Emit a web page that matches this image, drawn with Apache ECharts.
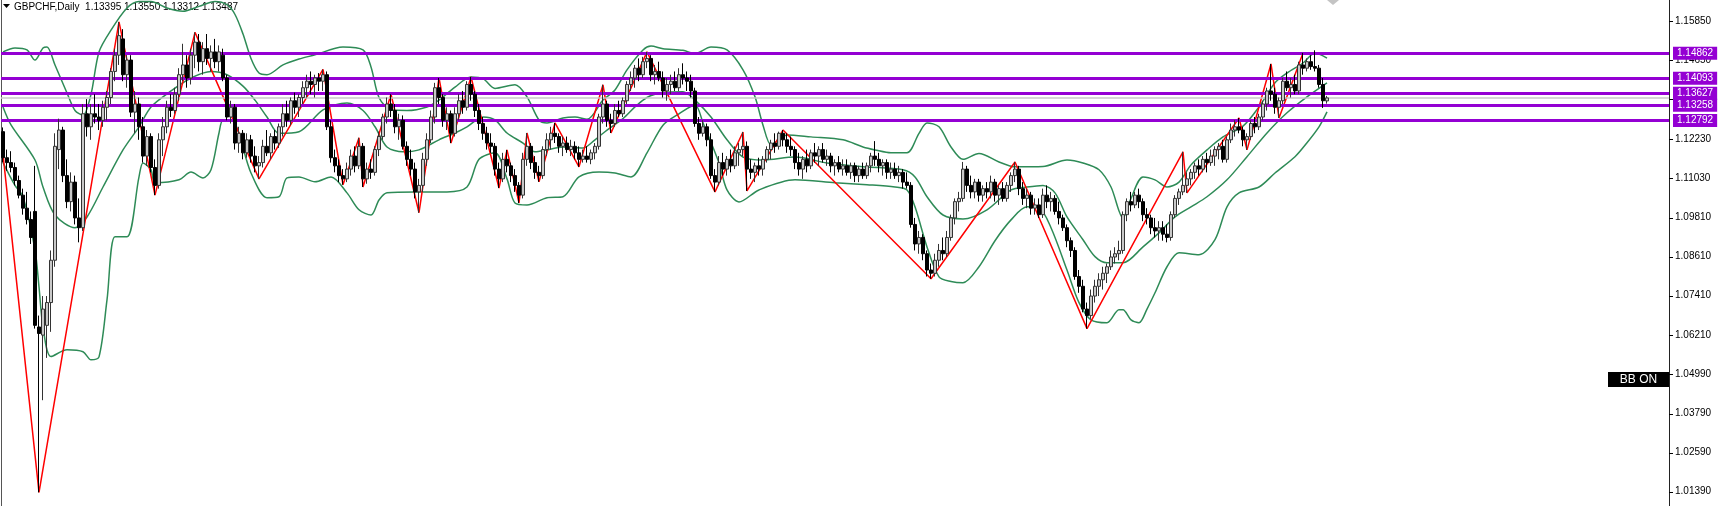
<!DOCTYPE html>
<html><head><meta charset="utf-8">
<script src="https://cdn.jsdelivr.net/npm/echarts/dist/echarts.min.js"></script>
<style>html,body{margin:0;padding:0;background:#fff}#c{width:1718px;height:506px}</style>
</head><body><div id="c"></div>
<script>
const symbolName = 'GBPCHF,Daily';
const headerQuote = [1.13395, 1.13550, 1.13312, 1.13487];
const priceTicks = [1.15850,1.14650,1.13450,1.12230,1.11030,1.09810,1.08610,1.07410,1.06210,1.04990,1.03790,1.02590,1.01390];
const levelLines = [1.14862,1.14093,1.13627,1.13258,1.12792];
const bidPrice = 1.13487;
const totalSlots = 417;
// [open, high, low, close]
const bars = [
[1.1245,1.1258,1.1150,1.1165],[1.1165,1.1190,1.1125,1.1150],[1.1150,1.1185,1.1120,1.1135],[1.1135,1.1150,1.1080,1.1095],[1.1095,1.1110,1.1040,1.1050],
[1.1050,1.1070,1.0990,1.1010],[1.1010,1.1060,1.0960,1.0975],[1.0975,1.1000,1.0900,1.0920],[1.1000,1.1140,1.0640,1.0650],[1.0645,1.0680,1.0137,1.0625],
[1.0620,1.0740,1.0420,1.0700],[1.0650,1.0740,1.0550,1.0720],[1.0720,1.0880,1.0630,1.0850],[1.0850,1.1240,1.0830,1.1200],[1.1190,1.1285,1.1130,1.1250],
[1.1250,1.1260,1.1090,1.1110],[1.1110,1.1160,1.1010,1.1030],[1.1030,1.1120,1.1000,1.1090],[1.1090,1.1110,1.0960,1.0980],[1.0980,1.1040,1.0905,1.0950],
[1.0950,1.1330,1.0940,1.1300],[1.1300,1.1345,1.1230,1.1260],[1.1260,1.1330,1.1220,1.1300],[1.1300,1.1360,1.1270,1.1290],[1.1290,1.1330,1.1250,1.1280],
[1.1280,1.1340,1.1260,1.1320],[1.1320,1.1370,1.1280,1.1350],[1.1350,1.1440,1.1330,1.1430],[1.1430,1.1500,1.1400,1.1480],[1.1480,1.1582,1.1450,1.1540],
[1.1530,1.1560,1.1400,1.1420],[1.1420,1.1480,1.1380,1.1465],[1.1465,1.1480,1.1290,1.1305],[1.1305,1.1370,1.1240,1.1330],[1.1330,1.1350,1.1220,1.1260],
[1.1260,1.1290,1.1150,1.1170],[1.1170,1.1250,1.1140,1.1230],[1.1230,1.1240,1.1120,1.1135],[1.1135,1.1160,1.1050,1.1080],[1.1080,1.1240,1.1070,1.1220],
[1.1220,1.1290,1.1170,1.1260],[1.1260,1.1340,1.1240,1.1320],[1.1320,1.1360,1.1290,1.1310],[1.1310,1.1380,1.1300,1.1360],[1.1360,1.1440,1.1340,1.1420],
[1.1420,1.1515,1.1400,1.1450],[1.1450,1.1480,1.1380,1.1410],[1.1410,1.1500,1.1390,1.1480],[1.1480,1.1550,1.1440,1.1520],[1.1520,1.1545,1.1430,1.1460],
[1.1460,1.1520,1.1420,1.1500],[1.1500,1.1545,1.1450,1.1470],[1.1470,1.1510,1.1430,1.1490],[1.1490,1.1530,1.1440,1.1460],[1.1460,1.1510,1.1430,1.1490],
[1.1480,1.1500,1.1400,1.1410],[1.1410,1.1420,1.1280,1.1290],[1.1290,1.1340,1.1270,1.1320],[1.1320,1.1330,1.1190,1.1210],[1.1210,1.1260,1.1180,1.1240],
[1.1240,1.1250,1.1160,1.1180],[1.1180,1.1240,1.1165,1.1220],[1.1220,1.1235,1.1150,1.1170],[1.1170,1.1200,1.1120,1.1140],[1.1140,1.1170,1.1100,1.1150],
[1.1150,1.1220,1.1135,1.1200],[1.1200,1.1250,1.1170,1.1180],[1.1180,1.1240,1.1160,1.1230],[1.1230,1.1250,1.1190,1.1210],[1.1210,1.1270,1.1195,1.1260],
[1.1260,1.1330,1.1230,1.1300],[1.1300,1.1340,1.1260,1.1280],[1.1280,1.1350,1.1265,1.1340],[1.1340,1.1365,1.1300,1.1320],[1.1320,1.1360,1.1290,1.1350],
[1.1350,1.1400,1.1330,1.1380],[1.1380,1.1420,1.1350,1.1400],[1.1400,1.1430,1.1360,1.1390],[1.1390,1.1420,1.1350,1.1410],[1.1410,1.1425,1.1370,1.1400],
[1.1400,1.1436,1.1370,1.1420],[1.1420,1.1430,1.1250,1.1260],[1.1260,1.1280,1.1150,1.1165],[1.1165,1.1190,1.1120,1.1140],[1.1140,1.1160,1.1090,1.1110],
[1.1110,1.1130,1.1082,1.1100],[1.1100,1.1150,1.1090,1.1130],[1.1130,1.1190,1.1110,1.1170],[1.1170,1.1200,1.1120,1.1140],[1.1140,1.1226,1.1130,1.1200],
[1.1200,1.1210,1.1075,1.1100],[1.1100,1.1150,1.1085,1.1130],[1.1130,1.1160,1.1100,1.1120],[1.1120,1.1200,1.1110,1.1190],[1.1190,1.1245,1.1170,1.1230],
[1.1230,1.1300,1.1220,1.1290],[1.1290,1.1350,1.1270,1.1330],[1.1330,1.1360,1.1290,1.1310],[1.1310,1.1330,1.1240,1.1260],[1.1260,1.1300,1.1220,1.1280],
[1.1280,1.1295,1.1190,1.1200],[1.1200,1.1215,1.1140,1.1160],[1.1160,1.1190,1.1110,1.1130],[1.1130,1.1150,1.1040,1.1060],[1.1060,1.1100,1.0996,1.1080],
[1.1080,1.1180,1.1060,1.1160],[1.1160,1.1240,1.1140,1.1220],[1.1220,1.1310,1.1210,1.1290],[1.1290,1.1395,1.1270,1.1380],[1.1380,1.1410,1.1330,1.1350],
[1.1350,1.1360,1.1260,1.1280],[1.1280,1.1320,1.1250,1.1300],[1.1300,1.1310,1.1210,1.1240],[1.1240,1.1320,1.1230,1.1300],[1.1300,1.1360,1.1280,1.1340],
[1.1340,1.1370,1.1300,1.1320],[1.1320,1.1400,1.1310,1.1390],[1.1390,1.1413,1.1340,1.1360],[1.1360,1.1370,1.1290,1.1310],[1.1310,1.1330,1.1250,1.1270],
[1.1270,1.1290,1.1220,1.1240],[1.1240,1.1260,1.1190,1.1210],[1.1210,1.1240,1.1180,1.1200],[1.1200,1.1210,1.1110,1.1130],[1.1130,1.1150,1.1072,1.1100],
[1.1100,1.1180,1.1090,1.1160],[1.1160,1.1189,1.1120,1.1140],[1.1140,1.1150,1.1090,1.1110],[1.1110,1.1130,1.1060,1.1080],[1.1080,1.1090,1.1026,1.1050],
[1.1050,1.1180,1.1040,1.1160],[1.1160,1.1241,1.1140,1.1200],[1.1200,1.1210,1.1130,1.1150],[1.1150,1.1170,1.1100,1.1120],[1.1120,1.1140,1.1091,1.1110],
[1.1110,1.1200,1.1100,1.1190],[1.1190,1.1240,1.1170,1.1220],[1.1220,1.1260,1.1190,1.1240],[1.1240,1.1272,1.1210,1.1230],[1.1230,1.1240,1.1180,1.1200],
[1.1200,1.1230,1.1170,1.1210],[1.1210,1.1230,1.1180,1.1190],[1.1190,1.1220,1.1170,1.1200],[1.1200,1.1215,1.1160,1.1180],[1.1180,1.1200,1.1137,1.1160],
[1.1160,1.1190,1.1150,1.1170],[1.1170,1.1200,1.1150,1.1160],[1.1160,1.1190,1.1145,1.1180],[1.1180,1.1210,1.1160,1.1200],[1.1200,1.1300,1.1190,1.1290],
[1.1290,1.1389,1.1270,1.1330],[1.1330,1.1340,1.1260,1.1280],[1.1280,1.1300,1.1241,1.1270],[1.1270,1.1330,1.1260,1.1310],[1.1310,1.1340,1.1290,1.1300],
[1.1300,1.1350,1.1290,1.1340],[1.1340,1.1400,1.1330,1.1390],[1.1390,1.1430,1.1370,1.1410],[1.1410,1.1450,1.1380,1.1440],[1.1440,1.1470,1.1400,1.1420],
[1.1420,1.1475,1.1410,1.1460],[1.1460,1.1490,1.1440,1.1470],[1.1470,1.1480,1.1400,1.1420],[1.1420,1.1450,1.1390,1.1430],[1.1430,1.1460,1.1400,1.1410],
[1.1410,1.1430,1.1350,1.1370],[1.1370,1.1410,1.1340,1.1390],[1.1390,1.1420,1.1360,1.1400],[1.1400,1.1430,1.1370,1.1380],[1.1380,1.1440,1.1370,1.1420],
[1.1420,1.1455,1.1390,1.1410],[1.1410,1.1430,1.1370,1.1400],[1.1400,1.1420,1.1350,1.1370],[1.1370,1.1380,1.1260,1.1270],[1.1270,1.1290,1.1220,1.1240],
[1.1240,1.1280,1.1230,1.1260],[1.1260,1.1270,1.1200,1.1220],[1.1220,1.1240,1.1100,1.1110],[1.1110,1.1130,1.1060,1.1090],[1.1090,1.1170,1.1080,1.1150],
[1.1150,1.1180,1.1110,1.1130],[1.1130,1.1170,1.1110,1.1160],[1.1160,1.1190,1.1120,1.1140],[1.1140,1.1200,1.1130,1.1180],[1.1180,1.1210,1.1140,1.1190],
[1.1190,1.1244,1.1170,1.1200],[1.1200,1.1215,1.1063,1.1130],[1.1130,1.1160,1.1100,1.1120],[1.1120,1.1150,1.1090,1.1140],[1.1140,1.1165,1.1110,1.1130],
[1.1130,1.1170,1.1110,1.1160],[1.1160,1.1200,1.1150,1.1190],[1.1190,1.1220,1.1160,1.1210],[1.1210,1.1240,1.1180,1.1200],[1.1200,1.1245,1.1190,1.1240],
[1.1240,1.1250,1.1200,1.1220],[1.1220,1.1240,1.1180,1.1200],[1.1200,1.1230,1.1170,1.1190],[1.1190,1.1200,1.1130,1.1150],[1.1150,1.1180,1.1110,1.1130],
[1.1130,1.1170,1.1100,1.1160],[1.1160,1.1190,1.1120,1.1140],[1.1140,1.1190,1.1130,1.1180],[1.1180,1.1210,1.1150,1.1170],[1.1170,1.1200,1.1140,1.1190],
[1.1190,1.1210,1.1150,1.1160],[1.1160,1.1190,1.1140,1.1170],[1.1170,1.1180,1.1120,1.1140],[1.1140,1.1160,1.1110,1.1150],[1.1150,1.1170,1.1120,1.1130],
[1.1130,1.1160,1.1110,1.1140],[1.1140,1.1160,1.1110,1.1120],[1.1120,1.1150,1.1100,1.1140],[1.1140,1.1150,1.1090,1.1110],[1.1110,1.1140,1.1090,1.1130],
[1.1130,1.1150,1.1100,1.1110],[1.1110,1.1150,1.1100,1.1140],[1.1140,1.1180,1.1120,1.1170],[1.1170,1.1216,1.1140,1.1160],[1.1160,1.1180,1.1120,1.1140],
[1.1140,1.1160,1.1110,1.1150],[1.1150,1.1160,1.1100,1.1120],[1.1120,1.1150,1.1100,1.1130],[1.1130,1.1150,1.1100,1.1110],[1.1110,1.1140,1.1090,1.1120],
[1.1120,1.1130,1.1070,1.1090],[1.1090,1.1120,1.1070,1.1080],[1.1080,1.1090,1.0950,1.0960],[1.0960,1.0980,1.0880,1.0900],[1.0900,1.0940,1.0870,1.0920],
[1.0920,1.0930,1.0850,1.0870],[1.0870,1.0880,1.0800,1.0820],[1.0820,1.0840,1.0793,1.0810],[1.0810,1.0870,1.0800,1.0850],[1.0850,1.0900,1.0830,1.0880],
[1.0880,1.0920,1.0850,1.0870],[1.0870,1.0940,1.0860,1.0920],[1.0920,1.0990,1.0910,1.0980],[1.0980,1.1040,1.0960,1.1030],[1.1030,1.1060,1.1000,1.1040],
[1.1040,1.1152,1.1030,1.1130],[1.1130,1.1140,1.1060,1.1080],[1.1080,1.1110,1.1040,1.1060],[1.1060,1.1100,1.1040,1.1090],[1.1090,1.1100,1.1030,1.1050],
[1.1050,1.1080,1.1030,1.1070],[1.1070,1.1090,1.1040,1.1060],[1.1060,1.1110,1.1040,1.1090],[1.1090,1.1100,1.1030,1.1050],[1.1050,1.1080,1.1020,1.1070],
[1.1070,1.1090,1.1030,1.1040],[1.1040,1.1090,1.1030,1.1080],[1.1080,1.1120,1.1060,1.1110],[1.1110,1.1152,1.1090,1.1130],[1.1130,1.1140,1.1050,1.1070],
[1.1070,1.1090,1.1020,1.1040],[1.1040,1.1070,1.1010,1.1050],[1.1050,1.1060,1.0990,1.1010],[1.1010,1.1040,1.0990,1.1020],[1.1020,1.1040,1.0980,1.0990],
[1.0990,1.1070,1.0980,1.1050],[1.1050,1.1080,1.1010,1.1030],[1.1030,1.1060,1.1000,1.1040],[1.1040,1.1050,1.0990,1.1000],[1.1000,1.1030,1.0960,1.0980],
[1.0980,1.0990,1.0940,1.0950],[1.0950,1.0960,1.0890,1.0910],[1.0910,1.0920,1.0860,1.0880],[1.0880,1.0890,1.0790,1.0800],[1.0800,1.0820,1.0750,1.0770],
[1.0770,1.0790,1.0690,1.0700],[1.0700,1.0720,1.0640,1.0680],[1.0680,1.0760,1.0670,1.0740],[1.0740,1.0790,1.0720,1.0770],[1.0770,1.0810,1.0740,1.0790],
[1.0790,1.0830,1.0760,1.0810],[1.0810,1.0840,1.0780,1.0830],[1.0830,1.0880,1.0820,1.0860],[1.0860,1.0890,1.0840,1.0870],[1.0870,1.0910,1.0850,1.0880],
[1.0880,1.1000,1.0870,1.0990],[1.0990,1.1040,1.0970,1.1030],[1.1030,1.1060,1.1000,1.1020],[1.1020,1.1060,1.1010,1.1050],[1.1050,1.1070,1.1010,1.1030],
[1.1030,1.1040,1.0970,1.0990],[1.0990,1.1010,1.0960,1.0980],[1.0980,1.0990,1.0930,1.0950],[1.0950,1.0980,1.0920,1.0940],[1.0940,1.0970,1.0910,1.0950],
[1.0950,1.0970,1.0910,1.0930],[1.0930,1.0960,1.0905,1.0920],[1.0920,1.1000,1.0910,1.0990],[1.0990,1.1050,1.0980,1.1040],[1.1040,1.1070,1.1020,1.1060],
[1.1060,1.1183,1.1050,1.1080],[1.1080,1.1120,1.1057,1.1100],[1.1100,1.1130,1.1080,1.1120],[1.1120,1.1150,1.1100,1.1140],[1.1140,1.1160,1.1110,1.1130],
[1.1130,1.1170,1.1120,1.1160],[1.1160,1.1180,1.1120,1.1150],[1.1150,1.1190,1.1140,1.1170],[1.1170,1.1200,1.1140,1.1190],[1.1190,1.1210,1.1160,1.1200],
[1.1200,1.1220,1.1150,1.1160],[1.1160,1.1230,1.1150,1.1220],[1.1220,1.1270,1.1210,1.1250],[1.1250,1.1280,1.1230,1.1260],[1.1260,1.1287,1.1240,1.1250],
[1.1250,1.1260,1.1200,1.1220],[1.1220,1.1240,1.1189,1.1230],[1.1230,1.1280,1.1220,1.1270],[1.1270,1.1290,1.1240,1.1260],[1.1260,1.1300,1.1250,1.1290],
[1.1290,1.1340,1.1280,1.1330],[1.1330,1.1380,1.1310,1.1370],[1.1370,1.1453,1.1340,1.1360],[1.1360,1.1380,1.1300,1.1320],[1.1320,1.1350,1.1287,1.1340],
[1.1340,1.1410,1.1330,1.1400],[1.1400,1.1430,1.1370,1.1380],[1.1380,1.1410,1.1350,1.1390],[1.1390,1.1420,1.1360,1.1370],[1.1370,1.1460,1.1360,1.1450],
[1.1450,1.1487,1.1420,1.1440],[1.1440,1.1470,1.1430,1.1460],[1.1460,1.1480,1.1435,1.1445],[1.1445,1.1495,1.1430,1.1440],[1.1440,1.1450,1.1380,1.1390],
[1.1390,1.1410,1.1318,1.1340],[1.13395,1.13550,1.13312,1.13487]
];
// ZigZag vertices [bar index, price]
const zigzag = [[0,1.1175],[9,1.0137],[29,1.1582],[38,1.1050],[48,1.1550],[64,1.1100],[80,1.1436],[85,1.1082],[89,1.1226],[90,1.1075],[97,1.1360],[104,1.0996],[109,1.1410],[112,1.1210],[117,1.1413],[124,1.1072],[126,1.1189],[129,1.1026],[131,1.1241],[134,1.1091],[138,1.1272],[144,1.1137],[150,1.1389],[152,1.1241],[161,1.1490],[178,1.1060],[185,1.1244],[186,1.1063],[195,1.1250],[232,1.0793],[253,1.1152],[271,1.0640],[295,1.1183],[296,1.1057],[309,1.1287],[311,1.1189],[317,1.1453],[319,1.1287],[325,1.1487]];
// Bollinger band readings [bar index, price]
const bbUpper = [[0,1.1490],[3,1.1502],[6,1.1496],[8,1.1465],[10,1.1502],[11,1.1505],[13,1.1450],[16,1.1364],[18,1.1310],[20,1.1296],[22,1.1360],[24,1.1490],[27,1.1557],[31,1.1625],[34,1.1645],[37,1.1645],[41,1.1625],[45,1.1615],[49,1.1630],[53,1.1645],[56,1.1635],[58,1.1605],[60,1.1545],[62,1.1470],[64,1.1425],[66,1.1420],[70,1.1450],[74,1.1468],[78,1.1481],[85,1.1505],[90,1.1496],[92,1.1444],[94,1.1350],[97,1.1312],[101,1.1310],[106,1.1321],[109,1.1342],[113,1.1382],[117,1.1413],[120,1.1408],[123,1.1378],[128,1.1389],[131,1.1352],[134,1.1281],[136,1.1272],[140,1.1287],[143,1.1290],[146,1.1283],[150,1.1342],[153,1.1373],[156,1.1435],[160,1.1496],[162,1.1508],[165,1.1500],[170,1.1495],[173,1.1485],[177,1.1505],[181,1.1496],[185,1.1435],[188,1.1352],[190,1.1265],[192,1.1205],[194,1.1220],[196,1.1235],[202,1.1229],[210,1.1220],[215,1.1198],[218,1.1189],[222,1.1180],[226,1.1180],[229,1.1240],[231,1.1272],[234,1.1260],[237,1.1198],[240,1.1160],[244,1.1178],[249,1.1152],[253,1.1137],[260,1.1138],[266,1.1158],[270,1.1149],[274,1.1128],[277,1.1075],[280,1.0980],[282,1.1040],[285,1.1106],[288,1.1097],[291,1.1075],[294,1.1090],[297,1.1143],[301,1.1189],[305,1.1229],[310,1.1262],[314,1.1321],[318,1.1395],[321,1.1425],[325,1.1456],[328,1.1487],[331,1.1471]];
const bbMiddle = [[0,1.1321],[2,1.1266],[8,1.1158],[10,1.1075],[13,1.0989],[18,1.0950],[21,1.0983],[25,1.1075],[30,1.1189],[34,1.1260],[37,1.1321],[42,1.1370],[47,1.1410],[52,1.1430],[56,1.1420],[60,1.1385],[63,1.1342],[66,1.1290],[69,1.1240],[74,1.1245],[80,1.1312],[86,1.1333],[90,1.1310],[93,1.1260],[96,1.1198],[100,1.1183],[104,1.1189],[109,1.1220],[113,1.1241],[116,1.1260],[120,1.1290],[123,1.1281],[126,1.1241],[130,1.1210],[133,1.1183],[136,1.1189],[140,1.1198],[145,1.1195],[148,1.1220],[151,1.1250],[155,1.1285],[158,1.1321],[161,1.1350],[165,1.1365],[170,1.1368],[173,1.1342],[177,1.1290],[181,1.1220],[185,1.1167],[190,1.1158],[198,1.1167],[206,1.1149],[215,1.1137],[225,1.1128],[228,1.1106],[231,1.1045],[235,1.0989],[240,1.0977],[246,1.1005],[252,1.1066],[256,1.1075],[260,1.1080],[263,1.1057],[266,1.0983],[270,1.0913],[273,1.0861],[276,1.0842],[280,1.0842],[285,1.0891],[289,1.0934],[293,1.0983],[297,1.1014],[301,1.1045],[306,1.1097],[311,1.1168],[316,1.1241],[321,1.1303],[326,1.1352],[331,1.1395]];
const bbLower = [[0,1.1150],[3,1.1080],[5,1.1045],[8,1.0882],[9,1.0768],[10,1.0645],[12,1.0554],[16,1.0575],[20,1.0569],[22,1.0544],[24,1.0553],[26,1.0728],[28,1.0922],[31,1.0922],[34,1.1106],[35,1.1149],[37,1.1128],[38,1.1088],[44,1.1097],[47,1.1121],[50,1.1103],[52,1.1128],[54,1.1241],[55,1.1281],[57,1.1281],[62,1.1118],[66,1.1042],[69,1.1045],[71,1.1103],[74,1.1106],[78,1.1091],[82,1.1106],[86,1.1057],[89,1.1005],[92,1.0989],[94,1.1035],[96,1.1057],[103,1.1060],[111,1.1060],[116,1.1075],[119,1.1160],[123,1.1180],[126,1.1100],[128,1.1026],[131,1.1020],[136,1.1042],[140,1.1045],[144,1.1106],[149,1.1121],[153,1.1118],[157,1.1106],[161,1.1180],[165,1.1265],[169,1.1300],[173,1.1327],[175,1.1272],[179,1.1149],[181,1.1066],[184,1.1029],[189,1.1066],[198,1.1097],[208,1.1088],[216,1.1082],[223,1.1075],[226,1.1066],[228,1.1014],[231,1.0891],[234,1.0799],[237,1.0785],[240,1.0781],[244,1.0830],[248,1.0910],[252,1.0974],[256,1.1014],[259,1.1011],[262,1.0950],[266,1.0820],[269,1.0720],[272,1.0667],[276,1.0658],[279,1.0698],[280,1.0698],[282,1.0667],[284,1.0658],[286,1.0700],[288,1.0750],[291,1.0830],[294,1.0873],[299,1.0867],[303,1.0913],[306,1.1014],[309,1.1057],[314,1.1075],[318,1.1118],[323,1.1168],[326,1.1211],[329,1.1260],[331,1.1306]];

const FONT = 'Liberation Sans';
const PURPLE = '#9400D3';
const GREEN = '#2E8B57';
const yMin = 1.0095, yMax = 1.16495;

const chart = echarts.init(document.getElementById('c'), null, {renderer: 'canvas'});
const cats = Array.from({length: totalSlots}, (_, i) => 'd' + i);
const candleData = bars.map(b => [b[0], b[3], b[2], b[1]]);
const bbLine = (name, data) => ({
  name, type: 'line', data, z: 3, symbol: 'none', smooth: 0.3, silent: true,
  lineStyle: {color: GREEN, width: 1.5}, animation: false
});

chart.setOption({
  animation: false,
  backgroundColor: '#ffffff',
  grid: {left: 1, right: 49, top: 0, bottom: 0, containLabel: false},
  xAxis: {type: 'category', data: cats, boundaryGap: true,
    axisLine: {show: false}, axisTick: {show: false}, axisLabel: {show: false}, splitLine: {show: false}},
  yAxis: [
    {type: 'value', position: 'right', min: yMin, max: yMax,
      axisLine: {show: true, lineStyle: {color: '#222', width: 1}}, axisTick: {show: false},
      axisLabel: {show: false}, splitLine: {show: false}},
    {type: 'value', position: 'left', min: yMin, max: yMax,
      axisLine: {show: true, lineStyle: {color: '#555', width: 1}}, axisTick: {show: false},
      axisLabel: {show: false}, splitLine: {show: false}}
  ],
  graphic: [
    {type: 'polygon', shape: {points: [[3, 4], [10, 4], [6.5, 8]]}, style: {fill: '#000'}},
    {type: 'text', left: 14, top: 2, style: {text: symbolName + '  ' + headerQuote.map(v => v.toFixed(5)).join(' '), fontSize: 10, fontFamily: FONT, fill: '#000'}},
    {type: 'polygon', shape: {points: [[1327, 0], [1339, 0], [1333, 5]]}, style: {fill: '#c4c4c4'}},
    {type: 'rect', shape: {x: 1608, y: 372, width: 61, height: 15}, style: {fill: '#000'}},
    {type: 'text', style: {text: 'BB ON', x: 1638.5, y: 380, align: 'center', verticalAlign: 'middle', fontSize: 12, fontFamily: FONT, fill: '#fff'}}
  ],
  series: [
    {type: 'custom', z: 1, clip: false, silent: true, data: priceTicks.map(v => [0, v]), encode: {x: 0, y: 1},
      renderItem: (params, api) => {
        const v = api.value(1);
        const y = api.coord([0, v])[1];
        const x0 = params.coordSys.x + params.coordSys.width;
        return {type: 'group', children: [
          {type: 'line', shape: {x1: x0, y1: Math.round(y) + 0.5, x2: x0 + 4, y2: Math.round(y) + 0.5}, style: {stroke: '#000', lineWidth: 1}},
          {type: 'text', style: {text: v.toFixed(5), x: x0 + 6, y: y, align: 'left', verticalAlign: 'middle', fontSize: 10, fontFamily: FONT, fill: '#000'}}
        ]};
      }},
    {type: 'line', z: 2, data: [], silent: true,
      markLine: {silent: true, symbol: ['none', 'none'], animation: false, precision: 5,
        lineStyle: {color: PURPLE, width: 3, type: 'solid'},
        label: {show: true, position: 'end', distance: 4, formatter: p => Number(p.value).toFixed(5), color: '#fff', backgroundColor: PURPLE,
          padding: [2, 4, 1, 4], fontSize: 10, fontFamily: FONT},
        emphasis: {disabled: true},
        data: [{yAxis: bidPrice, lineStyle: {color: '#c8c8c8', width: 1.5}, label: {show: false}}]
          .concat(levelLines.map(v => ({yAxis: v})))
      }},
    bbLine('BB upper', bbUpper),
    bbLine('BB middle', bbMiddle),
    bbLine('BB lower', bbLower),
    {name: 'ZigZag', type: 'line', data: zigzag, z: 3, symbol: 'none', silent: true,
      lineStyle: {color: '#ff0000', width: 1.5}},
    {name: symbolName, type: 'candlestick', z: 5, data: candleData, barWidth: 3, silent: true,
      itemStyle: {color: '#c8c8c8', color0: '#000000', borderColor: '#333333', borderColor0: '#000000', borderWidth: 1}}
  ]
});
</script>
</body></html>
